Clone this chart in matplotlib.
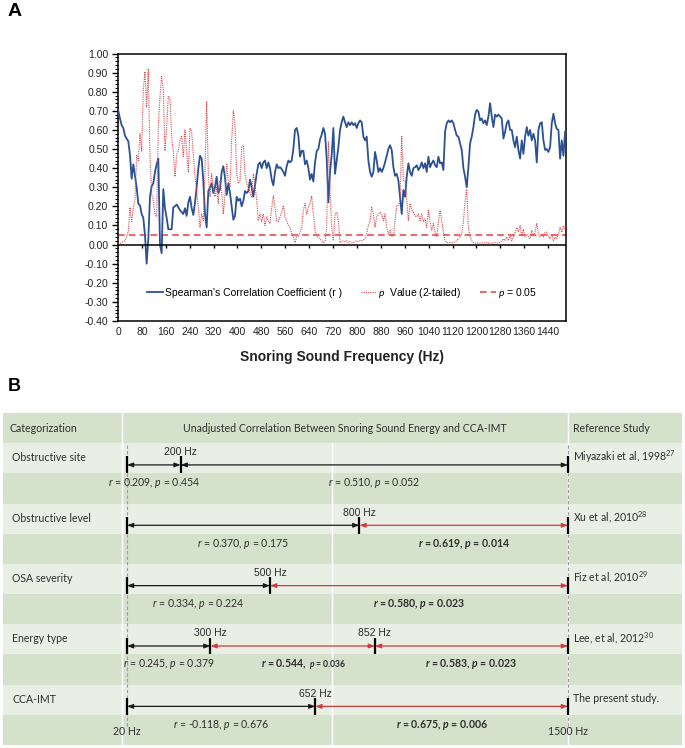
import numpy as np
import matplotlib
matplotlib.use("Agg")
import matplotlib.pyplot as plt
import matplotlib.transforms as mtransforms
from matplotlib.ticker import MultipleLocator

plt.rcParams.update({
    "font.family": ["Liberation Sans", "DejaVu Sans"],
    "mathtext.fontset": "custom",
    "mathtext.rm": "Lato",
    "mathtext.it": "Lato:italic",
    "mathtext.bf": "Lato:bold",
    "mathtext.bfit": "Lato:italic:bold",
})

# ---------------- Panel A data ----------------
r_values = [
    0.70, 0.66, 0.625, 0.61, 0.57, 0.555, 0.54, 0.47, 0.345, 0.42,
    0.36, 0.30, 0.215, 0.205, 0.16, 0.14, 0.05, -0.10, 0.03, 0.25,
    0.305, 0.32, 0.38, 0.42, 0.45, 0.0, -0.045, 0.29, 0.19, 0.14,
    0.08, 0.08, 0.08, 0.195, 0.20, 0.21, 0.195, 0.18, 0.17, 0.16,
    0.19, 0.15, 0.22, 0.25, 0.19, 0.155, 0.22, 0.30, 0.40, 0.465,
    0.45, 0.33, 0.16, 0.09, 0.28, 0.30, 0.32, 0.27, 0.30, 0.355,
    0.27, 0.29, 0.38, 0.41, 0.35, 0.26, 0.32, 0.27, 0.20, 0.13,
    0.15, 0.25, 0.23, 0.24, 0.20, 0.23, 0.28, 0.27, 0.28, 0.34,
    0.30, 0.25, 0.31, 0.37, 0.42, 0.43, 0.40, 0.43, 0.44, 0.40,
    0.43, 0.40, 0.34, 0.31, 0.38, 0.42, 0.40, 0.405, 0.395, 0.38,
    0.36, 0.41, 0.44, 0.43, 0.44, 0.50, 0.60, 0.61, 0.57, 0.46,
    0.49, 0.49, 0.42, 0.44, 0.40, 0.34, 0.37, 0.33, 0.43, 0.49,
    0.50, 0.55, 0.575, 0.61, 0.58, 0.45, 0.22, 0.38, 0.47, 0.61,
    0.37, 0.44, 0.51,
    0.60, 0.64, 0.67, 0.64, 0.615, 0.64, 0.625, 0.64, 0.625, 0.635,
    0.61, 0.635, 0.65, 0.64, 0.565, 0.545, 0.565, 0.44, 0.38, 0.355,
    0.38, 0.485, 0.44, 0.38, 0.40, 0.38, 0.40, 0.43, 0.465, 0.50,
    0.52, 0.495, 0.405, 0.36, 0.37, 0.335, 0.25, 0.16, 0.285, 0.25,
    0.355, 0.425, 0.38, 0.36, 0.40, 0.405, 0.415, 0.39, 0.405, 0.43,
    0.40, 0.425, 0.38, 0.46, 0.405, 0.425, 0.44, 0.415, 0.405, 0.46,
    0.425, 0.43, 0.39, 0.59, 0.635, 0.65, 0.64, 0.65, 0.635, 0.60,
    0.57, 0.565, 0.53, 0.495, 0.40, 0.355, 0.30, 0.405, 0.53, 0.565,
    0.615, 0.68, 0.705, 0.695, 0.65, 0.66, 0.635, 0.65, 0.625, 0.67,
    0.74, 0.67, 0.615, 0.68, 0.67, 0.68, 0.67, 0.66, 0.555, 0.59,
    0.635, 0.65, 0.60, 0.60, 0.545, 0.51, 0.565, 0.495, 0.45, 0.545,
    0.475, 0.565, 0.615, 0.57, 0.60, 0.545, 0.58, 0.545, 0.43, 0.60,
    0.635, 0.64, 0.545, 0.495, 0.50, 0.485, 0.51, 0.635, 0.685, 0.635,
    0.605, 0.60, 0.45, 0.545, 0.465, 0.59,
]

p_values = [
    0.0, 0.005, 0.01, 0.015, 0.02, 0.04, 0.07, 0.195, 0.12, 0.195,
    0.23, 0.47, 0.44, 0.58, 0.49, 0.81, 0.905, 0.72, 0.92, 0.46,
    0.265, 0.23, 0.16, 0.145, 0.615, 0.775, 0.88, 0.81, 0.49, 0.615,
    0.775, 0.765, 0.565, 0.49, 0.355, 0.47, 0.49, 0.545, 0.57, 0.46,
    0.60, 0.49, 0.38, 0.61, 0.59, 0.47, 0.355, 0.285, 0.195, 0.09,
    0.16, 0.125, 0.38, 0.75, 0.37, 0.25, 0.37, 0.30, 0.25, 0.30,
    0.215, 0.335, 0.275, 0.16, 0.265, 0.425, 0.335, 0.30, 0.545, 0.70,
    0.625, 0.37, 0.32, 0.335, 0.51, 0.52, 0.37, 0.32, 0.30, 0.265,
    0.25, 0.37, 0.32, 0.23, 0.125, 0.16, 0.12, 0.16, 0.10, 0.145,
    0.125, 0.11, 0.195, 0.255, 0.195, 0.125, 0.12, 0.145, 0.17, 0.205,
    0.145, 0.125, 0.10, 0.09, 0.055, 0.04, 0.01, 0.04, 0.045, 0.065,
    0.09, 0.18, 0.215, 0.16, 0.195, 0.215, 0.255, 0.16, 0.075, 0.045,
    0.04, 0.03, 0.02, 0.01, 0.02, 0.09, 0.54, 0.285, 0.09, 0.02,
    0.16, 0.17, 0.125,
    0.01, 0.015, 0.02, 0.015, 0.02, 0.01, 0.015, 0.01, 0.01, 0.015,
    0.02, 0.015, 0.02, 0.02, 0.025, 0.03, 0.06, 0.10, 0.125, 0.195,
    0.16, 0.09, 0.145, 0.16, 0.17, 0.16, 0.125, 0.16, 0.09, 0.055,
    0.075, 0.045, 0.045, 0.125, 0.205, 0.205, 0.23, 0.57, 0.335, 0.335,
    0.23, 0.125, 0.215, 0.18, 0.17, 0.15, 0.145, 0.16, 0.125, 0.16,
    0.12, 0.135, 0.09, 0.18, 0.12, 0.075, 0.11, 0.065, 0.04, 0.12,
    0.18, 0.125, 0.065, 0.02, 0.01, 0.01, 0.01, 0.01, 0.01, 0.015,
    0.02, 0.03, 0.04, 0.055, 0.12, 0.23, 0.29, 0.09, 0.04, 0.02,
    0.01, 0.008, 0.007, 0.008, 0.007, 0.008, 0.01, 0.008, 0.01, 0.008,
    0.007, 0.008, 0.007, 0.01, 0.008, 0.01, 0.01, 0.02, 0.03, 0.02,
    0.04, 0.02, 0.045, 0.02, 0.04, 0.065, 0.09, 0.065, 0.10, 0.045,
    0.08, 0.04, 0.055, 0.04, 0.03, 0.075, 0.045, 0.065, 0.11, 0.055,
    0.04, 0.055, 0.04, 0.065, 0.065, 0.045, 0.03, 0.055, 0.02, 0.04,
    0.03, 0.055, 0.09, 0.065, 0.10, 0.08,
]

# frequency bins (uniform category axis of the original line chart)
freq = np.linspace(1, 1497, len(r_values))
alpha_level = 0.05
xtick_vals = list(range(0, 1441, 80))

# ---------------- Panel B data ----------------
categories = ["Obstructive site", "Obstructive level", "OSA severity",
              "Energy type", "CCA-IMT"]
references = ["Miyazaki et al, 1998", "Xu et al, 2010", "Fiz et al, 2010",
              "Lee, et al, 2012", "The present study."]
ref_sups = ["27", "28", "29", "30", ""]
cut_freqs = [[200], [800], [500], [300, 852], [652]]
seg_r = [[0.209, 0.510], [0.370, 0.619], [0.334, 0.580],
         [0.245, 0.544, 0.583], [-0.118, 0.675]]
seg_p = [[0.454, 0.052], [0.175, 0.014], [0.224, 0.023],
         [0.379, 0.036, 0.023], [0.676, 0.006]]
freq_low, freq_high = 20, 1500

BLUE = "#2C5193"
RED_DOT = "#E0474C"
RED_DASH = "#EB4B4F"
RED_SEG = "#D23A3C"
DARK_BAND = "#D5E2CB"
LIGHT_BAND = "#EAEFE6"
TXT = "#2E2E2E"

fig = plt.figure(figsize=(6.85, 7.48), dpi=100)

# ================= Panel A =================
axA = fig.add_axes([118 / 685, 1 - 321 / 748, 448 / 685, 267.5 / 748])
axA.plot(freq, r_values, color=BLUE, lw=1.3, zorder=3,
         label="Spearman's Correlation Coefficient (r )")
axA.plot(freq, p_values, color=RED_DOT, lw=0.8, ls=(0, (1, 1)), zorder=4,
         label=r"$\mathit{p}$  Value (2-tailed)")
axA.axhline(alpha_level, color=RED_DASH, lw=1.2, ls=(0, (4, 2.5)), zorder=2,
            label=r"$\mathit{p}$ = 0.05")
axA.axhline(0, color="black", lw=1.1, zorder=5)
axA.vlines(xtick_vals[1:], -0.02, 0, color="black", lw=1.0, zorder=5)

axA.set_xlim(0, 1500)
axA.set_ylim(-0.40, 1.00)
axA.yaxis.set_major_locator(MultipleLocator(0.10))
axA.yaxis.set_minor_locator(MultipleLocator(0.02))
axA.yaxis.set_major_formatter(matplotlib.ticker.FormatStrFormatter("%.2f"))
axA.set_xticks(xtick_vals)
axA.tick_params(axis="x", length=0, pad=4, labelsize=7.5, colors="#222222")
axA.tick_params(axis="y", which="major", direction="out", length=4, width=1,
                labelsize=7.5, pad=3, labelcolor="#222222")
axA.tick_params(axis="y", which="minor", direction="out", length=2, width=0.8)
for s in axA.spines.values():
    s.set_linewidth(1.1)
    s.set_color("black")
axA.set_xlabel("Snoring Sound Frequency (Hz)", fontsize=10, fontweight="bold",
               labelpad=10, color="#222222")
axA.legend(loc="center", bbox_to_anchor=(0.5, 0.105), ncol=3, frameon=False,
           fontsize=7.5, handlelength=1.5, handletextpad=0.2,
           columnspacing=1.8)

fig.text(8 / 685, 1 - 12 / 748, "A", fontsize=14, fontweight="bold",
         ha="left", va="center")
fig.text(8 / 685, 1 - 387 / 748, "B", fontsize=13, fontweight="bold",
         ha="left", va="center")

# ================= Panel B =================
axB = fig.add_axes([3 / 685, 3 / 748, 679 / 685, 332 / 748])
hz_per_px = (freq_high - freq_low) / (568 - 127)
axB.set_xlim(freq_low - (127 - 3) * hz_per_px, freq_high + (682 - 568) * hz_per_px)
axB.set_ylim(11, 0)
axB.axis("off")
tb = mtransforms.blended_transform_factory(axB.transAxes, axB.transData)

n_bands = 1 + 2 * len(categories)
for i in range(n_bands):
    axB.axhspan(i, i + 1, color=DARK_BAND if i % 2 == 0 else LIGHT_BAND,
                lw=0, zorder=0)

col1, col2, col3 = 0.1748, 0.4841, 0.8325
for c in (col1, col3):
    axB.plot([c, c], [0, n_bands], transform=tb, color="white", lw=1.0, zorder=1)
axB.plot([col2, col2], [1, n_bands], transform=tb, color="white", lw=1.0, zorder=1)

tfont = dict(family=["Lato", "DejaVu Sans"], fontsize=7.6, color=TXT)
axB.text(0.009, 0.5, "Categorization", transform=tb, ha="left", va="center", **tfont)
axB.text((col1 + col3) / 2, 0.5,
         "Unadjusted Correlation Between Snoring Sound Energy and CCA-IMT",
         transform=tb, ha="center", va="center", **tfont)
axB.text(col3 + 0.007, 0.5, "Reference Study", transform=tb, ha="left",
         va="center", **tfont)

# dashed guides at 20 Hz and 1500 Hz
axB.vlines([freq_low, freq_high], 1.05, n_bands - 0.6, colors="#9C9C9C",
           linestyles=(0, (3, 2)), lw=0.8, zorder=1)

for i, cat in enumerate(categories):
    row = 1 + 2 * i
    ly = row + 0.72
    axB.text(0.0133, row + 0.48, cat, transform=tb, ha="left", va="center", **tfont)
    sup = ref_sups[i]
    ref_txt = references[i] + (r"$^{" + sup + "}$" if sup else "")
    axB.text(col3 + 0.007, row + 0.45, ref_txt, transform=tb, ha="left",
             va="center", **tfont)
    bounds = [freq_low] + cut_freqs[i] + [freq_high]
    for j in range(len(bounds) - 1):
        x0, x1 = bounds[j], bounds[j + 1]
        sig = seg_p[i][j] < alpha_level
        col = RED_SEG if sig else "#1A1A1A"
        axB.annotate("", xy=(x1, ly), xytext=(x0, ly),
                     arrowprops=dict(arrowstyle="<|-|>,head_length=0.35,head_width=0.13",
                                     color=col, lw=0.9, shrinkA=0, shrinkB=0),
                     zorder=3)
        mid = (x0 + x1) / 2
        r, p = seg_r[i][j], seg_p[i][j]
        ty = row + 1 + 0.33
        if sig:
            fw = "bold"
            rs, ps = r"$\mathbfit{r}$", r"$\mathbfit{p}$"
        else:
            fw = "normal"
            rs, ps = r"$\mathit{r}$", r"$\mathit{p}$"
        if i == 3 and j == 1:
            # original shows the p part of this label in a smaller font
            t1 = axB.text(mid + 48, ty, f"{rs} = {r:.3f},", ha="right",
                          va="center", fontweight=fw, **tfont)
            axB.annotate(f" {ps} = {p:.3f}", xy=(1, 0.5), xycoords=t1,
                         ha="left", va="center", fontweight=fw,
                         family=["Lato", "DejaVu Sans"], fontsize=6.2, color=TXT)
        else:
            axB.text(mid, ty, f"{rs} = {r:.3f}, {ps} = {p:.3f}", ha="center",
                     va="center", fontweight=fw, **tfont)
    axB.vlines(bounds, ly - 0.28, ly + 0.28, colors="black", lw=1.6, zorder=4)
    for f in cut_freqs[i]:
        axB.text(f, row + 0.3, f"{f} Hz", ha="center", va="center",
                 fontsize=7.5, color="#2A2A2A", zorder=2)

axB.text(freq_low, n_bands - 0.44, f"{freq_low} Hz", ha="center", va="center",
         **tfont)
axB.text(freq_high, n_bands - 0.44, f"{freq_high} Hz", ha="center", va="center",
         **tfont)

fig.savefig("out.png", dpi=100, facecolor="white")
